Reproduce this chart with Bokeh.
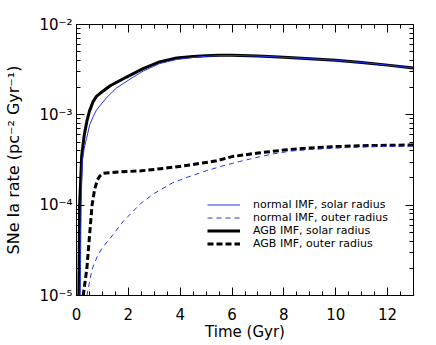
from bokeh.plotting import figure
from bokeh.models import (Range1d, LinearAxis, LogAxis, SingleIntervalTicker, LogTicker,
                          CustomJSTickFormatter, Legend, LegendItem)
from bokeh.embed import file_html
from bokeh.resources import INLINE

# normal IMF, solar radius
t_norm_sol = [0.10, 0.14, 0.18, 0.22, 0.30, 0.39, 0.51, 0.64, 0.77, 1.16, 1.54, 2.06, 2.57, 3.21,
              3.86, 4.5, 5.0, 5.5, 6.0, 7.0, 8.0, 9.0, 10.0, 11.0, 12.0, 13.0]
r_norm_sol = [5e-6, 1e-5, 1e-4, 3.0e-4, 4.3e-4, 5.5e-4, 7.8e-4, 9.5e-4, 1.13e-3, 1.55e-3, 1.98e-3,
              2.48e-3, 3.05e-3, 3.7e-3, 4.1e-3, 4.32e-3, 4.45e-3, 4.52e-3, 4.55e-3, 4.48e-3,
              4.33e-3, 4.18e-3, 4.02e-3, 3.8e-3, 3.55e-3, 3.3e-3]

# normal IMF, outer radius
t_norm_out = [0.35, 0.40, 0.60, 0.80, 1.0, 1.3, 1.8, 2.47, 3.0, 3.7, 4.3, 5.0, 5.6, 6.3, 7.0,
              7.6, 8.3, 9.0, 10.0, 11.0, 12.0, 13.0]
r_norm_out = [5e-6, 1e-5, 1.95e-5, 2.7e-5, 3.4e-5, 4.3e-5, 6.6e-5, 1.04e-4, 1.35e-4, 1.76e-4,
              2.05e-4, 2.4e-4, 2.7e-4, 3.05e-4, 3.4e-4, 3.7e-4, 3.98e-4, 4.12e-4, 4.28e-4,
              4.4e-4, 4.47e-4, 4.5e-4]

# AGB IMF, solar radius
t_agb_sol = [0.07, 0.09, 0.12, 0.20, 0.30, 0.40, 0.50, 0.64, 0.77, 0.90, 1.3, 1.93, 2.57, 3.2,
             3.86, 4.5, 5.0, 5.5, 6.0, 7.0, 8.0, 9.0, 10.0, 11.0, 12.0, 13.0]
r_agb_sol = [5e-6, 1e-5, 1e-4, 3.5e-4, 6e-4, 8.5e-4, 1.1e-3, 1.4e-3, 1.6e-3, 1.72e-3, 2.1e-3,
             2.62e-3, 3.25e-3, 3.85e-3, 4.25e-3, 4.42e-3, 4.52e-3, 4.57e-3, 4.57e-3, 4.48e-3,
             4.33e-3, 4.18e-3, 4.02e-3, 3.8e-3, 3.55e-3, 3.3e-3]

# AGB IMF, outer radius
t_agb_out = [0.22, 0.26, 0.40, 0.50, 0.60, 0.70, 0.80, 0.90, 1.04, 1.5, 2.0, 2.5, 3.4, 4.4, 5.4,
             6.0, 7.0, 8.0, 9.0, 10.0, 11.0, 12.0, 13.0]
r_agb_out = [5e-6, 1e-5, 2e-5, 4.5e-5, 1.0e-4, 1.5e-4, 1.88e-4, 2.1e-4, 2.25e-4, 2.32e-4, 2.36e-4,
             2.4e-4, 2.56e-4, 2.79e-4, 3.1e-4, 3.45e-4, 3.78e-4, 4.07e-4, 4.3e-4, 4.45e-4,
             4.55e-4, 4.6e-4, 4.64e-4]

labels = ["normal IMF, solar radius", "normal IMF, outer radius",
          "AGB IMF, solar radius", "AGB IMF, outer radius"]

BLUE = "#2236ee"
FONT = "DejaVu Sans"

p = figure(width=430, height=343, y_axis_type="log", output_backend="svg", toolbar_location=None,
           x_range=Range1d(0, 13), y_range=Range1d(1e-5, 1e-2),
           min_border_left=76, min_border_right=17, min_border_top=24, min_border_bottom=47)
p.grid.visible = False
p.outline_line_color = "black"
p.background_fill_color = "white"

xt = SingleIntervalTicker(interval=2, num_minor_ticks=4)
yt = LogTicker(num_minor_ticks=10)
yfmt = CustomJSTickFormatter(code="""
const e = Math.round(Math.log10(tick));
const sup = {'-':'\u207b','0':'\u2070','1':'\u00b9','2':'\u00b2','3':'\u00b3','4':'\u2074',
             '5':'\u2075','6':'\u2076','7':'\u2077','8':'\u2078','9':'\u2079'};
return '10' + String(e).split('').map(c => sup[c]).join('');
""")
blank = CustomJSTickFormatter(code="return '';")

def style(ax):
    ax.major_tick_in = 8
    ax.major_tick_out = 0
    ax.minor_tick_in = 4
    ax.minor_tick_out = 0
    ax.axis_line_color = "black"
    ax.major_tick_line_color = "black"
    ax.minor_tick_line_color = "black"
    ax.major_label_text_font = FONT
    ax.major_label_text_font_size = "15px"
    ax.major_label_text_color = "black"
    ax.axis_label_text_font = FONT
    ax.axis_label_text_font_size = "15px"
    ax.axis_label_text_font_style = "normal"
    ax.axis_label_text_color = "black"

xa = p.xaxis[0]
xa.ticker = xt
style(xa)
xa.axis_label = "Time (Gyr)"
xa.major_label_standoff = 12
xa.axis_label_standoff = 0

ya = p.yaxis[0]
ya.ticker = yt
ya.formatter = yfmt
style(ya)
ya.axis_label = "SNe Ia rate (pc\u207b\u00b2 Gyr\u207b\u00b9)"
ya.axis_label_text_font_size = "16px"
ya.major_label_standoff = 4
ya.axis_label_standoff = 13

top = LinearAxis(ticker=xt, formatter=blank)
style(top)
top.major_label_standoff = 0
p.add_layout(top, "above")

right = LogAxis(ticker=yt, formatter=blank)
style(right)
right.major_label_standoff = 0
p.add_layout(right, "right")

r_as = p.line(t_agb_sol, r_agb_sol, line_color="black", line_width=3)
r_ao = p.line(t_agb_out, r_agb_out, line_color="black", line_width=3, line_dash="6 3")
r_ns = p.line(t_norm_sol, r_norm_sol, line_color=BLUE, line_width=1)
r_no = p.line(t_norm_out, r_norm_out, line_color=BLUE, line_width=1, line_dash="5 4")

legend = Legend(items=[LegendItem(label=labels[0], renderers=[r_ns]),
                       LegendItem(label=labels[1], renderers=[r_no]),
                       LegendItem(label=labels[2], renderers=[r_as]),
                       LegendItem(label=labels[3], renderers=[r_ao])],
                location=(131, 45), orientation="vertical",
                border_line_color=None, background_fill_alpha=0,
                padding=0, margin=0, spacing=0,
                glyph_width=33, glyph_height=13, label_height=13, label_standoff=13,
                label_text_font=FONT, label_text_font_size="11px", label_text_color="black")
p.add_layout(legend, "center")

open("out.html", "w").write(file_html(p, INLINE))
